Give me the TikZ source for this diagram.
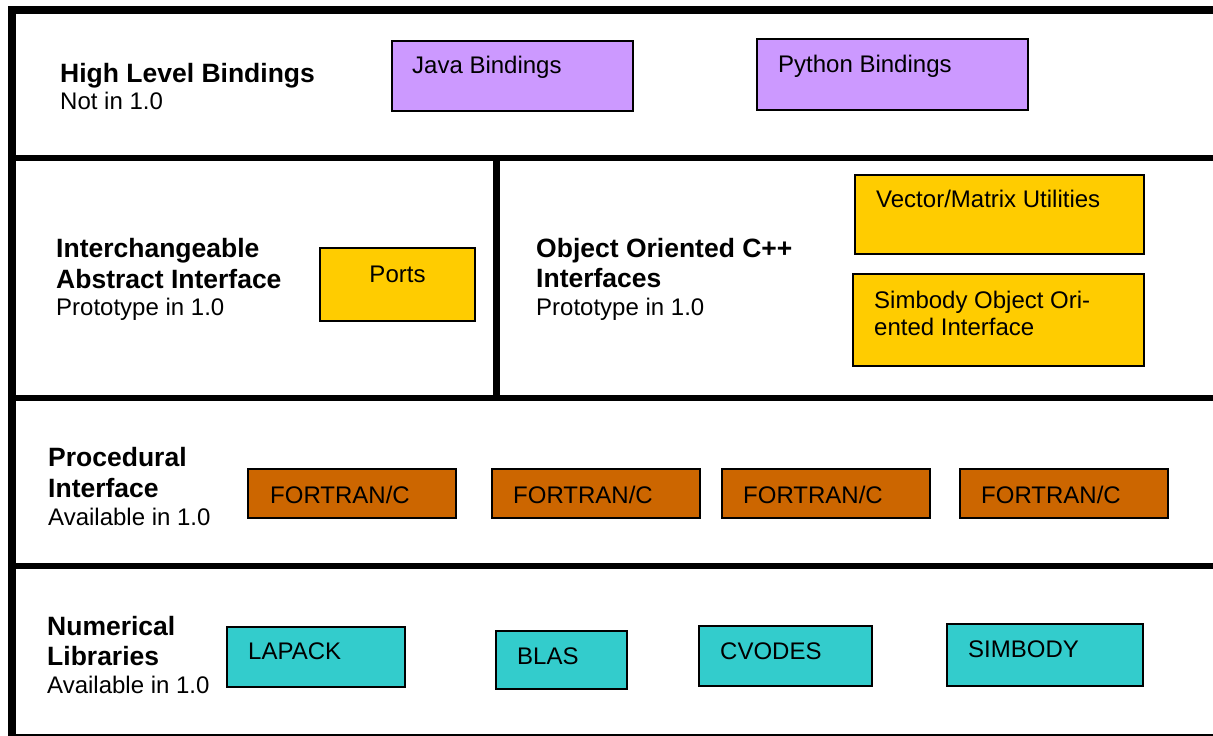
\documentclass[tikz,border=0pt]{standalone}
\usepackage{fontspec}
\setmainfont{Liberation Sans}
\definecolor{cpurple}{HTML}{CC99FF}
\definecolor{cgold}{HTML}{FFCC00}
\definecolor{corange}{HTML}{CC6600}
\definecolor{cteal}{HTML}{33CCCC}
\tikzset{
  boxp/.style={draw=black, line width=1.8pt, anchor=north west, inner sep=0pt, outer sep=0pt},
  txt/.style={anchor=base west, inner sep=0pt, font=\fontsize{24}{28}\selectfont},
  hd/.style={anchor=base west, inner sep=0pt, font=\fontsize{26.5}{30}\selectfont\bfseries},
  sub/.style={anchor=base west, inner sep=0pt, font=\fontsize{24}{28}\selectfont},
}
\begin{document}
\begin{tikzpicture}[x=1pt, y=-1pt]
\useasboundingbox (0,0) rectangle (1213,736);
\fill[white] (0,0) rectangle (1213,736);
% frame lines
\draw[line width=8pt] (8,10) -- (1213,10);
\draw[line width=8pt] (12,6) -- (12,736);
\draw[line width=6pt] (12,158) -- (1213,158);
\draw[line width=6pt] (12,397.5) -- (1213,397.5);
\draw[line width=6pt] (12,565.5) -- (1213,565.5);
\draw[line width=2pt] (12,735) -- (1213,735);
\draw[line width=7pt] (496,158) -- (496,397.5);
% row 1
\node[hd] (hl1) at (60,82) {High Level Bindings};
\node[sub] (hl2) at (60,109) {Not in 1.0};
\node[boxp, fill=cpurple, minimum width=241pt, minimum height=70pt] (java) at (392,41) {};
\node[txt] (javat) at (412,73) {Java Bindings};
\node[boxp, fill=cpurple, minimum width=271pt, minimum height=71pt] (python) at (757,39) {};
\node[txt] (pythont) at (778,72) {Python Bindings};
% row 2 left
\node[hd] (ia1) at (56,257) {Interchangeable};
\node[hd] (ia2) at (56,288) {Abstract Interface};
\node[sub] (ia3) at (56,315) {Prototype in 1.0};
\node[boxp, fill=cgold, minimum width=155pt, minimum height=73pt] (ports) at (320,248) {};
\node[anchor=base, inner sep=0pt, font=\fontsize{24}{28}\selectfont] (portst) at (397.5,282) {Ports};
% row 2 right
\node[hd] (oo1) at (536,257) {Object Oriented C++};
\node[hd] (oo2) at (536,287) {Interfaces};
\node[sub] (oo3) at (536,315) {Prototype in 1.0};
\node[boxp, fill=cgold, minimum width=289pt, minimum height=79pt] (vec) at (855,175) {};
\node[txt] (vect) at (876,207) {Vector/Matrix Utilities};
\node[boxp, fill=cgold, minimum width=291pt, minimum height=92pt] (simoo) at (853,274) {};
\node[txt] (simoot1) at (874,308) {Simbody Object Ori-};
\node[txt] (simoot2) at (874,335) {ented Interface};
% row 3
\node[hd] (pi1) at (48,466) {Procedural};
\node[hd] (pi2) at (48,497) {Interface};
\node[sub] (pi3) at (48,525) {Available in 1.0};
\node[boxp, fill=corange, minimum width=208pt, minimum height=49pt] (f1) at (248,469) {};
\node[txt] (f1t) at (270,503) {FORTRAN/C};
\node[boxp, fill=corange, minimum width=208pt, minimum height=49pt] (f2) at (492,469) {};
\node[txt] (f2t) at (513,503) {FORTRAN/C};
\node[boxp, fill=corange, minimum width=208pt, minimum height=49pt] (f3) at (722,469) {};
\node[txt] (f3t) at (743,503) {FORTRAN/C};
\node[boxp, fill=corange, minimum width=208pt, minimum height=49pt] (f4) at (960,469) {};
\node[txt] (f4t) at (981,503) {FORTRAN/C};
% row 4
\node[hd] (nl1) at (47,635) {Numerical};
\node[hd] (nl2) at (47,665) {Libraries};
\node[sub] (nl3) at (47,693) {Available in 1.0};
\node[boxp, fill=cteal, minimum width=178pt, minimum height=60pt] (lapack) at (227,627) {};
\node[txt] (lapackt) at (248,659) {LAPACK};
\node[boxp, fill=cteal, minimum width=131pt, minimum height=58pt] (blas) at (496,631) {};
\node[txt] (blast) at (517,664) {BLAS};
\node[boxp, fill=cteal, minimum width=173pt, minimum height=60pt] (cvodes) at (699,626) {};
\node[txt] (cvodest) at (720,659) {CVODES};
\node[boxp, fill=cteal, minimum width=196pt, minimum height=62pt] (simbody) at (947,624) {};
\node[txt] (simbodyt) at (968,657) {SIMBODY};
\end{tikzpicture}
\end{document}
